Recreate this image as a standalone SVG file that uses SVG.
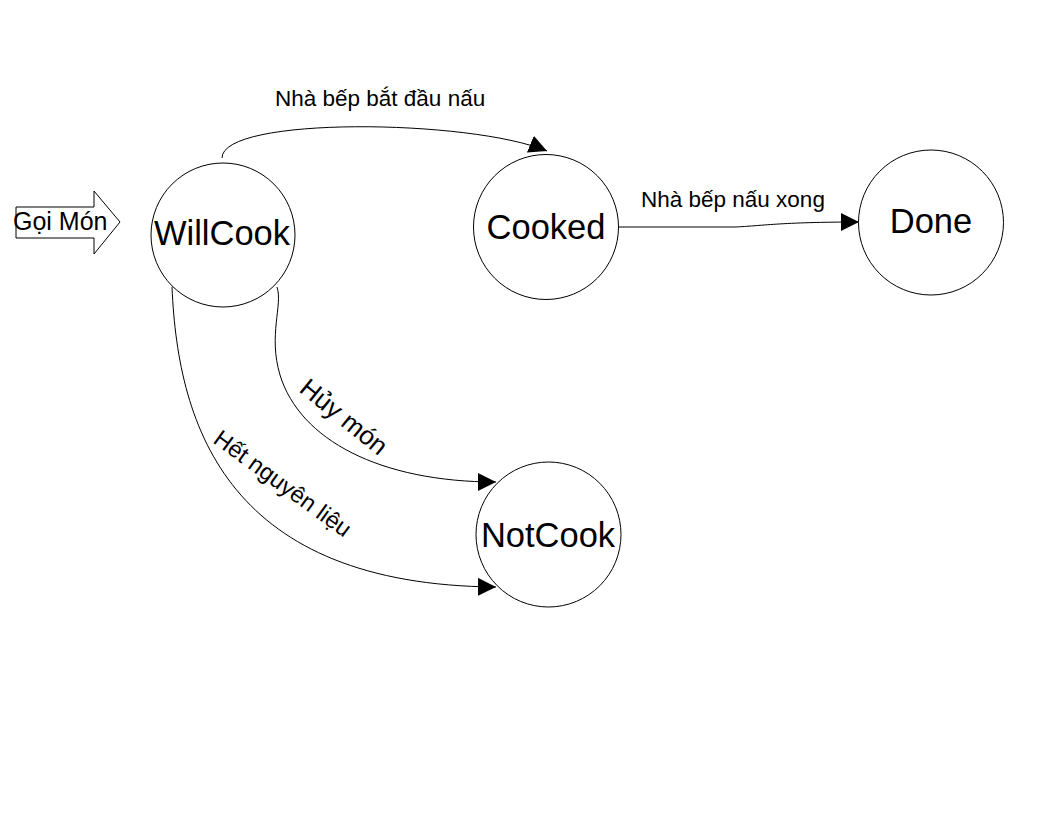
<svg xmlns="http://www.w3.org/2000/svg" width="1056" height="816" viewBox="0 0 1056 816">
<style>
.node{fill:#fff;stroke:#000;stroke-width:1}
.lbl{font-family:"Liberation Sans",Arial,sans-serif;fill:#000}
.big{font-size:34.5px;text-anchor:middle}
.edge{fill:none;stroke:#000;stroke-width:1}
.el{font-size:22.5px}
</style>
<defs>
<marker id="ah" viewBox="0 0 10 10" refX="10" refY="5" markerWidth="18" markerHeight="18" markerUnits="userSpaceOnUse" orient="auto">
<path d="M0,0 L10,5 L0,10 Z" fill="#000"/>
</marker>
</defs>
<rect width="1056" height="816" fill="#fff"/>
<g id="start">
<path d="M16,207 L94,207 L94,191 L120,222 L94,254 L94,238 L16,238 Z" fill="#fff" stroke="#000" stroke-width="1"/>
<text class="lbl" x="13" y="230" font-size="25">Gọi Món</text>
</g>
<g id="connectors">
<path class="edge" d="M222,158 C222,116 470,119 547,151" marker-end="url(#ah)"/>
<path class="edge" d="M619,227 L735,227 C760,226 780,222 859,222" marker-end="url(#ah)"/>
<path class="edge" d="M277,287 C283,305 268,335 280,375 C300,440 380,482 496,482" marker-end="url(#ah)"/>
<path class="edge" d="M172,287 C178,430 230,585 496,587" marker-end="url(#ah)"/>
<text class="lbl el" x="275" y="106">Nhà bếp bắt đầu nấu</text>
<text class="lbl el" x="641" y="207">Nhà bếp nấu xong</text>
<text class="lbl" font-size="26" transform="translate(298,391) rotate(39)">Hủy món</text>
<text class="lbl" font-size="23.5" transform="translate(212,442) rotate(36)">Hết nguyên liệu</text>
</g>
<g id="WillCook">
<circle class="node" cx="223" cy="235" r="72"/>
<text class="lbl big" x="222" y="245">WillCook</text>
</g>
<g id="Cooked">
<circle class="node" cx="546" cy="227" r="72.5"/>
<text class="lbl big" x="546" y="239">Cooked</text>
</g>
<g id="Done">
<circle class="node" cx="931" cy="222.5" r="72.5"/>
<text class="lbl big" x="931" y="233">Done</text>
</g>
<g id="NotCook">
<circle class="node" cx="548.5" cy="534.5" r="72.5"/>
<text class="lbl big" x="548" y="547">NotCook</text>
</g>
</svg>
